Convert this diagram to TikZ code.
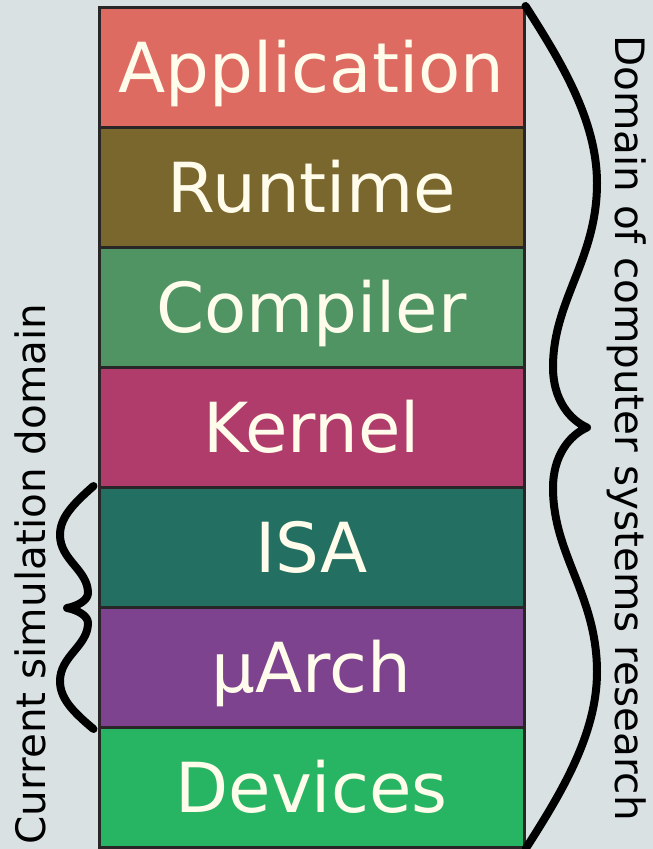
\documentclass[tikz,border=0pt]{standalone}
\usepackage{fontspec}
\setmainfont{DejaVu Sans}
\usetikzlibrary{positioning}
\definecolor{PaperGrey}{RGB}{217,225,227}
\definecolor{EdgeGrey}{RGB}{40,38,38}
\definecolor{LabelCream}{RGB}{255,252,236}
\definecolor{AppCoral}{RGB}{222,107,97}
\definecolor{RtOlive}{RGB}{122,103,45}
\definecolor{CompGreen}{RGB}{79,148,98}
\definecolor{KernRose}{RGB}{176,60,108}
\definecolor{IsaTeal}{RGB}{35,111,98}
\definecolor{ArchPurple}{RGB}{126,67,143}
\definecolor{DevGreen}{RGB}{39,181,99}
\tikzset{
  layer/.style={draw=EdgeGrey, line width=3pt, minimum width=425pt, minimum height=120pt,
    inner sep=0pt, text=LabelCream, text height=50pt, text depth=0pt,
    font=\fontsize{69}{80}\selectfont},
  sidelabel/.style={anchor=base, inner sep=0pt, font=\fontsize{40.5}{48}\selectfont},
  bracecurve/.style={line width=8pt, line cap=round, line join=round},
}
\begin{document}
\begin{tikzpicture}[x=1pt, y=-1pt]
  \fill[PaperGrey] (0,0) rectangle (653,849);
  \useasboundingbox (0,0) rectangle (653,849);
  % the layer stack, top to bottom
  \foreach \t/\c [count=\k from 0] in {Application/AppCoral, Runtime/RtOlive,
      Compiler/CompGreen, Kernel/KernRose, ISA/IsaTeal, µArch/ArchPurple, Devices/DevGreen}
    \node[layer, fill=\c] (l\k) at (311.5, {67.5+120*\k}) {\t};
  % brace over the whole stack
  \coordinate (rtop) at (l0.north east);
  \coordinate (rbot) at (l6.south east);
  \draw[bracecurve] (rtop) .. controls (560,60) and (597,120) .. (597,183)
    .. controls (597,260) and (553,300) .. (553,367)
    .. controls (553,400) and (570,420) .. (587,427.5)
    .. controls (570,435) and (553,455) .. (553,488)
    .. controls (553,555) and (597,595) .. (597,672)
    .. controls (597,735) and (560,795) .. (rbot);
  \node[sidelabel, rotate=-90] (research) at (615,428) {Domain of computer systems research};
  % brace over ISA and uArch
  \coordinate (ltop) at ([xshift=-4pt]l4.north west);
  \coordinate (lbot) at ([xshift=-4pt]l5.south west);
  \draw[bracecurve] (ltop) .. controls (72,505) and (60,518) .. (60,535)
    .. controls (60,560) and (88,570) .. (88,593)
    .. controls (88,600) and (78,606) .. (67,608)
    .. controls (78,610) and (88,616) .. (88,623)
    .. controls (88,646) and (60,656) .. (60,681)
    .. controls (60,698) and (72,711) .. (lbot);
  \node[sidelabel, rotate=90] (simdomain) at (45,574) {Current simulation domain};
\end{tikzpicture}
\end{document}
